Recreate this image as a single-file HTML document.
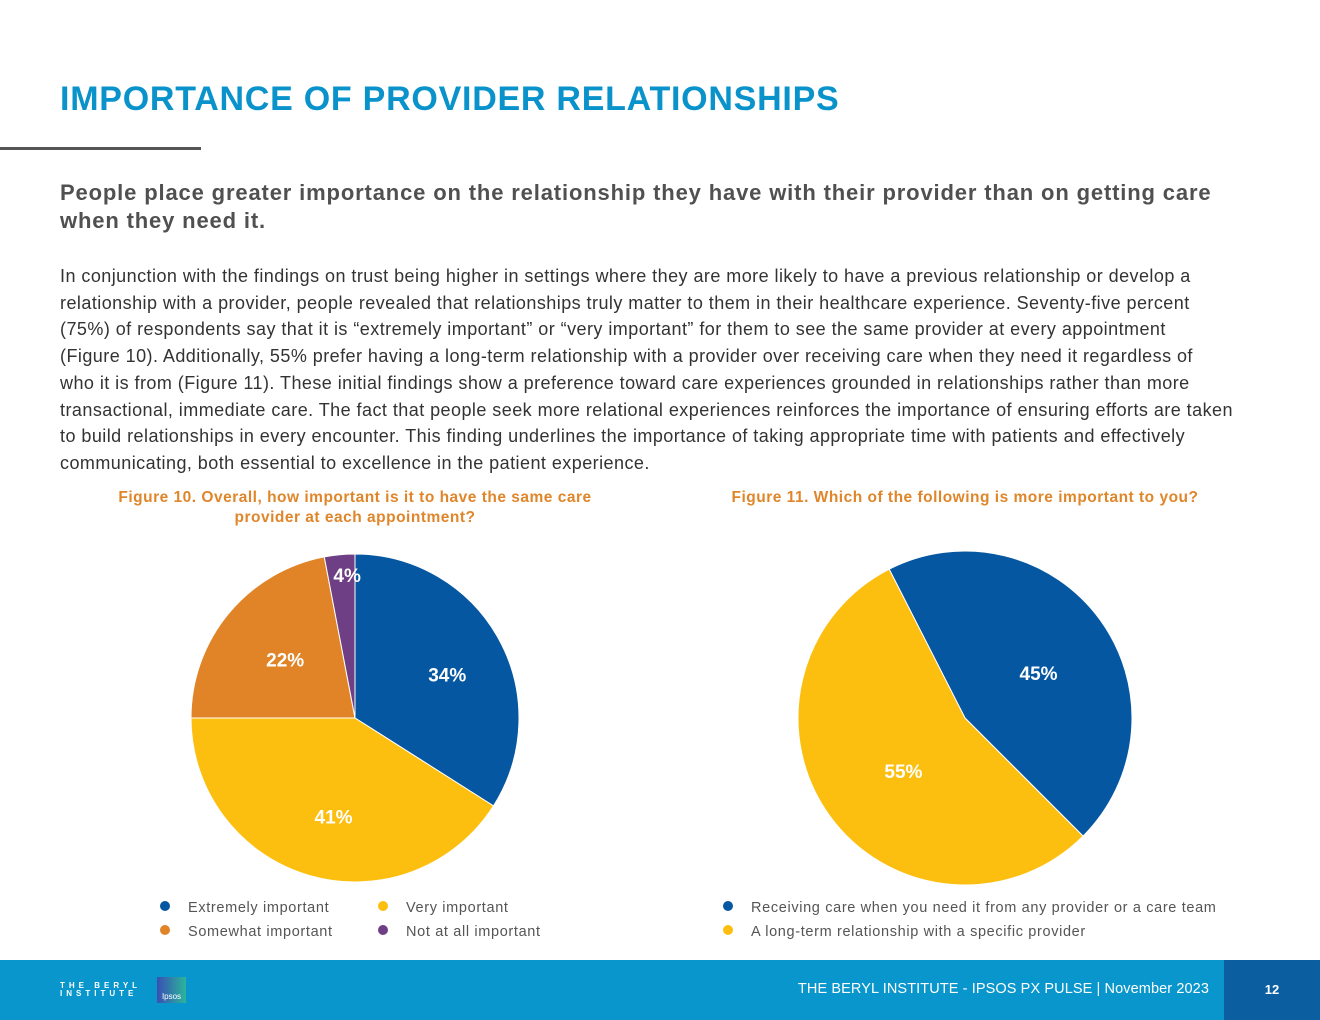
<!DOCTYPE html>
<html><head><meta charset="utf-8"><style>
body{margin:0;width:1320px;height:1020px;position:relative;background:#fff;font-family:"Liberation Sans",sans-serif;overflow:hidden}
.abs{position:absolute}
h1{position:absolute;left:60px;top:80px;margin:0;font-size:34px;font-weight:bold;color:#0a93cb;letter-spacing:0.75px}
.rule{left:0;top:147px;width:201px;height:3px;background:#555}
.sub{left:60px;top:179px;white-space:nowrap;font-size:22px;font-weight:bold;color:#505050;line-height:28px;letter-spacing:0.85px}
.body{left:60px;top:263px;white-space:nowrap;font-size:18px;color:#333;line-height:26.7px;letter-spacing:0.45px}
.fig{font-size:15.5px;font-weight:bold;color:#e0862a;text-align:center;line-height:20px;white-space:nowrap;letter-spacing:0.5px}
.leg{font-size:14.5px;color:#555;letter-spacing:0.65px}
.dot{display:inline-block;width:10px;height:10px;border-radius:50%;margin-right:18px;vertical-align:1px}
</style></head><body>
<h1>IMPORTANCE OF PROVIDER RELATIONSHIPS</h1>
<div class="abs rule"></div>
<div class="abs sub">People place greater importance on the relationship they have with their provider than on getting care<br>when they need it.</div>
<div class="abs body">In conjunction with the findings on trust being higher in settings where they are more likely to have a previous relationship or develop a<br>relationship with a provider, people revealed that relationships truly matter to them in their healthcare experience. Seventy-five percent<br>(75%) of respondents say that it is “extremely important” or “very important” for them to see the same provider at every appointment<br>(Figure 10). Additionally, 55% prefer having a long-term relationship with a provider over receiving care when they need it regardless of<br>who it is from (Figure 11). These initial findings show a preference toward care experiences grounded in relationships rather than more<br>transactional, immediate care. The fact that people seek more relational experiences reinforces the importance of ensuring efforts are taken<br>to build relationships in every encounter. This finding underlines the importance of taking appropriate time with patients and effectively<br>communicating, both essential to excellence in the patient experience.</div>
<div class="abs fig" style="left:100px;top:488px;width:510px">Figure 10. Overall, how important is it to have the same care<br>provider at each appointment?</div>
<div class="abs fig" style="left:710px;top:488px;width:510px">Figure 11. Which of the following is more important to you?</div>
<svg class="abs" style="left:0;top:0" width="1320" height="960" id="charts"></svg>
<div class="abs leg" style="left:160px;top:896px;line-height:24px">
<div><span class="dot" style="background:#0557a1"></span>Extremely important</div>
<div><span class="dot" style="background:#e08427"></span>Somewhat important</div>
</div>
<div class="abs leg" style="left:378px;top:896px;line-height:24px">
<div><span class="dot" style="background:#fcbf10"></span>Very important</div>
<div><span class="dot" style="background:#6f3f85"></span>Not at all important</div>
</div>
<div class="abs leg" style="left:723px;top:896px;line-height:24px">
<div><span class="dot" style="background:#0557a1"></span>Receiving care when you need it from any provider or a care team</div>
<div><span class="dot" style="background:#fcbf10"></span>A long-term relationship with a specific provider</div>
</div>
<div class="abs" style="left:0;top:960px;width:1320px;height:60px;background:#0996cc">
<div class="abs" style="left:60px;top:22px;color:#fff;font-size:8px;font-weight:bold;letter-spacing:4px;line-height:8px">THE BERYL<br>INSTITUTE</div>
<div class="abs" style="left:157px;top:17px;width:29px;height:26px;background:linear-gradient(90deg,#3a4fb5,#2bb59a);color:#fff;font-size:8px;text-align:center;line-height:40px">Ipsos</div>
<div class="abs" style="right:111px;top:21px;color:#fff;font-size:14.5px;letter-spacing:0.1px">THE BERYL INSTITUTE - IPSOS PX PULSE | November 2023</div>
<div class="abs" style="left:1224px;top:0;width:96px;height:60px;background:#0b5fa0;color:#fff;font-size:13px;font-weight:bold;text-align:center;line-height:60px">12</div>
</div>
<script>
const fig10Categories = ["Extremely important","Very important","Somewhat important","Not at all important"];
const fig10Values = [34,41,22,4];
const fig11Categories = ["Receiving care when you need it from any provider or a care team","A long-term relationship with a specific provider"];
const fig11Values = [45,55];
const fig10Colors = ["#0557a1","#fcbf10","#e08427","#6f3f85"];
const fig11Colors = ["#0557a1","#fcbf10"];
const svg = document.getElementById('charts');
const NS = 'http://www.w3.org/2000/svg';
function pt(cx,cy,r,deg){const a=deg*Math.PI/180;return [cx+r*Math.sin(a),cy-r*Math.cos(a)];}
function drawPie(vals,colors,cx,cy,R,start,name,labR){
  let cum=0;
  vals.forEach((v,i)=>{
    let a0=start+cum/100*360;
    cum+=v;
    let a1=Math.min(start+cum/100*360,start+360);
    const p0=pt(cx,cy,R,a0),p1=pt(cx,cy,R,a1);
    const large=(a1-a0)>180?1:0;
    const path=document.createElementNS(NS,'path');
    path.setAttribute('d',`M${cx},${cy}L${p0[0]},${p0[1]}A${R},${R} 0 ${large} 1 ${p1[0]},${p1[1]}Z`);
    path.setAttribute('fill',colors[i]);
    path.setAttribute('stroke','#fff');
    path.setAttribute('stroke-width','1');
    
    
    svg.appendChild(path);
    const mid=(a0+a1)/2;
    const rr=(a1-a0)<30?R*0.9:R*labR;
    const lp=pt(cx,cy,rr,mid);
    const t=document.createElementNS(NS,'text');
    t.setAttribute('x',lp[0]+6);t.setAttribute('y',lp[1]+11);
    t.setAttribute('text-anchor','middle');
    t.setAttribute('fill','#fff');
    t.setAttribute('font-size','19');
    t.setAttribute('font-weight','bold');
    t.setAttribute('font-family','Liberation Sans, sans-serif');
    t.textContent=v+'%';
    
    
    svg.appendChild(t);
  });
}
drawPie(fig10Values,fig10Colors,355,718,164,0,'fig10',0.6);
drawPie(fig11Values,fig11Colors,965,718,167,-27,'fig11',0.5);
</script>
</body></html>
